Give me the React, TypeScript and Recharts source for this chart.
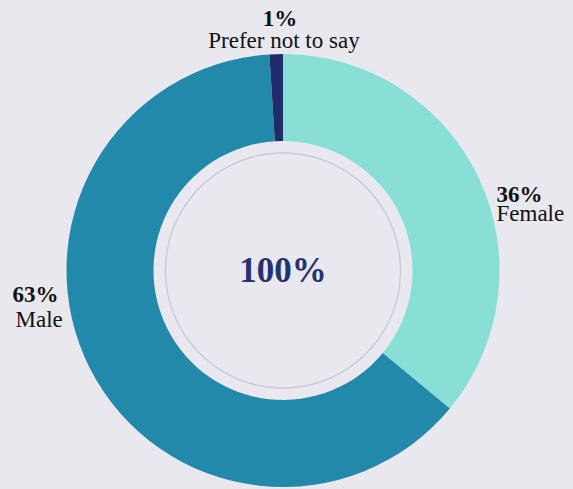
import React from 'react';
import { PieChart, Pie, Cell } from 'recharts';

const categories = ['Female', 'Male', 'Prefer not to say'];
const values = [36, 63, 1];
const percentLabels = ['36%', '63%', '1%'];
const totalLabel = '100%';
const sliceColors = ['#87dfd6', '#2389ab', '#1f2c6a'];

const data = categories.map((name, i) => ({ name, value: values[i] }));
const ring = [{ name: 'ring', value: 1 }];

const FONT = '"Liberation Serif", "Times New Roman", serif';
const BG = '#e9e8ee';

const renderLabel = (props: any) => {
  const { cx, cy, outerRadius, midAngle, index } = props;
  const pct = percentLabels[index];
  const name = categories[index];
  const cos = Math.cos((midAngle * Math.PI) / 180);
  let x: number, y1: number, y2: number, x2: number, anchor: 'start' | 'middle' | 'end';
  if (Math.abs(cos) < 0.2) {
    x = cx - 3;
    x2 = cx + 1;
    y1 = cy - outerRadius - 28;
    y2 = cy - outerRadius - 6;
    anchor = 'middle';
  } else if (cos > 0) {
    x = cx + outerRadius - 3;
    x2 = x;
    y1 = cy - 69;
    y2 = cy - 50;
    anchor = 'start';
  } else {
    x = cx - outerRadius - 54;
    x2 = x + 3;
    y1 = cy + 31;
    y2 = cy + 56;
    anchor = 'start';
  }
  return (
    <g>
      <text x={x} y={y1} textAnchor={anchor} fill="#111" fontFamily={FONT} fontSize={23} fontWeight="bold">
        {pct}
      </text>
      <text x={x2} y={y2} textAnchor={anchor} fill="#111" fontFamily={FONT} fontSize={23}>
        {name}
      </text>
    </g>
  );
};

const renderCenter = (props: any) => {
  const { cx, cy } = props;
  return (
    <text x={cx} y={cy + 11} textAnchor="middle" fill="#24336e" fontFamily={FONT} fontSize={35} fontWeight="bold">
      {totalLabel}
    </text>
  );
};

export default function App() {
  return (
    <div style={{ position: 'absolute', left: 0, top: 0, width: 573, height: 489, background: BG }}>
      <PieChart width={573} height={489} margin={{ top: 0, right: 0, bottom: 0, left: 0 }}>
        <Pie
          data={data}
          dataKey="value"
          nameKey="name"
          cx={283}
          cy={270.5}
          innerRadius={129.5}
          outerRadius={216.5}
          startAngle={90}
          endAngle={-270}
          stroke="none"
          label={renderLabel}
          labelLine={false}
          isAnimationActive={false}
        >
          {data.map((d, i) => (
            <Cell key={d.name} fill={sliceColors[i]} />
          ))}
        </Pie>
        <Pie
          data={ring}
          dataKey="value"
          cx={283}
          cy={270.5}
          innerRadius={116.8}
          outerRadius={118.2}
          startAngle={90}
          endAngle={-270}
          stroke="none"
          fill="#c6c9d9"
          label={renderCenter}
          labelLine={false}
          isAnimationActive={false}
        />
      </PieChart>
    </div>
  );
}
